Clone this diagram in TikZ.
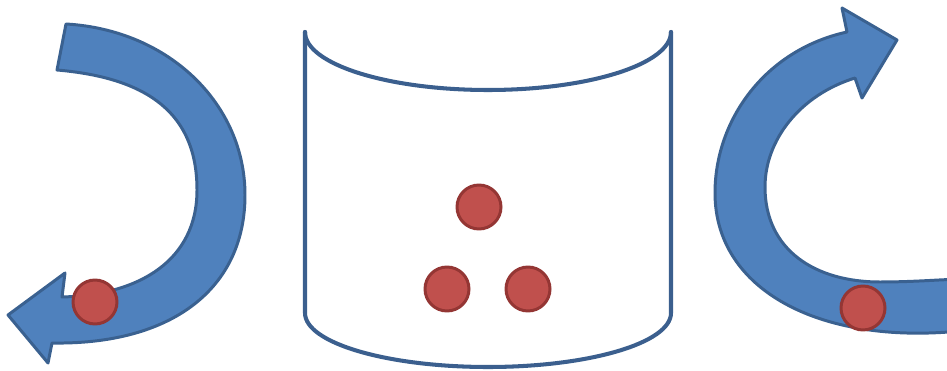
\documentclass[tikz,border=0pt]{standalone}
\usepackage{xcolor}
\usepackage{tikz}
\usetikzlibrary{positioning}
\definecolor{arrowfill}{HTML}{4F81BD}
\definecolor{arrowline}{HTML}{3A6190}
\definecolor{cupline}{HTML}{3B5F8E}
\definecolor{dotfill}{HTML}{C0504D}
\definecolor{dotline}{HTML}{943634}
\begin{document}
\begin{tikzpicture}[x=0.02cm, y=-0.02cm,
  bigarrow/.style={fill=arrowfill, draw=arrowline, line width=1.7pt, line join=round},
  cup/.style={draw=cupline, line width=2.3pt, line join=round, line cap=round},
  dot/.style={circle, minimum size=0.88cm, inner sep=0pt, fill=dotfill, draw=dotline, line width=1.7pt}]
  \useasboundingbox (0,0) rectangle (947,371);
  \clip (0,0) rectangle (947,371);
  % Left arrow (turning down and back to the left)
  \draw[bigarrow] (66,24) .. controls (170,30) and (245,105) .. (245,195)
                  .. controls (245,290) and (170,345) .. (52,343)
                  -- (48,363) -- (8,315) -- (65,273) -- (62,297)
                  .. controls (140,295) and (197,260) .. (197,190)
                  .. controls (197,115) and (150,78) .. (57,70) -- cycle;
  \node[dot] (leftdot) at (95,302) {};
  % Cup (open cylinder)
  \draw[cup] (305,32) -- (305,313)
             .. controls (305,343) and (387,367) .. (488,367)
             .. controls (589,367) and (671,343) .. (671,313) -- (671,32);
  \draw[cup] (305,32) .. controls (305,64) and (387,90) .. (488,90)
             .. controls (589,90) and (671,64) .. (671,32);
  % Particles inside the cup
  \node[dot] (cuptop)   at (479,207) {};
  \node[dot] (cupleft)  at (447,289) {};
  \node[dot] (cupright) at (528,289) {};
  % Right arrow (coming in from the right, turning up)
  \draw[bigarrow] (960,331) .. controls (820,345) and (715,290) .. (715,193)
                  .. controls (715,120) and (765,50) .. (847,32)
                  -- (842,8) -- (897,40) -- (862,98) -- (855,78)
                  .. controls (800,95) and (765,140) .. (765,187)
                  .. controls (765,250) and (815,282) .. (880,282)
                  .. controls (910,282) and (935,280) .. (960,279) -- cycle;
  \node[dot] (rightdot) at (863,308) {};
\end{tikzpicture}
\end{document}
